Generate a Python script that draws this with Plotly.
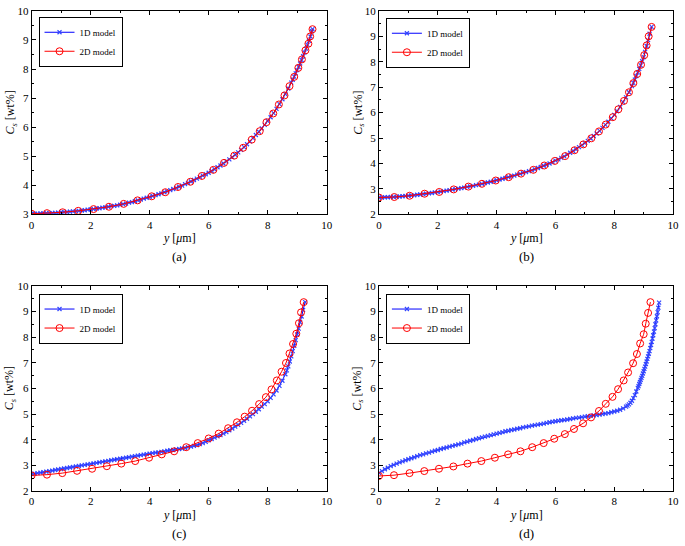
import plotly.graph_objects as go

# ---------------- data ----------------
# panel (a)
a_x1d = [0.0,0.1,0.2,0.3,0.4,0.5,0.6,0.7,0.8,0.9,1.0,1.1,1.2,1.3,1.4,1.5,1.6,1.7,1.8,1.9,
         2.0,2.1,2.2,2.3,2.4,2.5,2.6,2.7,2.8,2.9,3.0,3.1,3.2,3.3,3.4,3.5,3.6,3.7,3.8,3.9,
         4.0,4.1,4.2,4.3,4.4,4.5,4.6,4.7,4.8,4.9,5.0,5.1,5.2,5.3,5.4,5.5,5.6,5.7,5.8,5.9,
         6.0,6.1,6.2,6.3,6.4,6.5,6.6,6.7,6.8,6.9,7.0,7.1,7.2,7.3,7.4,7.5,7.6,7.7,7.8,7.9,
         8.0,8.1,8.2,8.3,8.4,8.5,8.6,8.7,8.8,8.85,8.9,8.95,9.0,9.05,9.1,9.15,9.2,9.25,9.3,
         9.35,9.4,9.45,9.5,9.52]
a_y1d = [3.02,3.02,3.02,3.03,3.03,3.04,3.04,3.05,3.05,3.06,3.07,3.08,3.08,3.09,3.10,3.11,3.12,3.13,3.14,3.16,
         3.17,3.18,3.20,3.21,3.23,3.24,3.26,3.28,3.29,3.31,3.33,3.35,3.37,3.40,3.42,3.45,3.48,3.51,3.54,3.57,
         3.60,3.63,3.66,3.69,3.72,3.76,3.79,3.83,3.87,3.91,3.95,3.99,4.04,4.08,4.13,4.18,4.23,4.28,4.33,4.38,
         4.43,4.49,4.55,4.62,4.68,4.75,4.82,4.89,4.97,5.05,5.13,5.22,5.31,5.41,5.51,5.62,5.73,5.84,5.96,6.08,
         6.21,6.34,6.48,6.63,6.79,6.96,7.14,7.33,7.53,7.63,7.74,7.85,7.96,8.07,8.19,8.31,8.44,8.57,8.70,
         8.83,8.97,9.12,9.30,9.37]
a_x2d = [0.0,0.52,1.05,1.58,2.1,2.62,3.12,3.59,4.07,4.53,4.96,5.38,5.77,6.16,6.52,6.87,7.17,7.46,
         7.73,7.96,8.19,8.38,8.57,8.74,8.9,9.04,9.16,9.28,9.38,9.44,9.52]
a_y2d = [3.02,3.04,3.07,3.12,3.18,3.26,3.36,3.48,3.62,3.76,3.94,4.12,4.32,4.53,4.77,5.02,5.29,5.57,
         5.86,6.17,6.47,6.78,7.09,7.41,7.73,8.04,8.33,8.64,8.87,9.12,9.37]

# panel (b)
b_x1d = [0.0,0.1,0.2,0.3,0.4,0.5,0.6,0.7,0.8,0.9,1.0,1.1,1.2,1.3,1.4,1.5,1.6,1.7,1.8,1.9,
         2.0,2.1,2.2,2.3,2.4,2.5,2.6,2.7,2.8,2.9,3.0,3.1,3.2,3.3,3.4,3.5,3.6,3.7,3.8,3.9,
         4.0,4.1,4.2,4.3,4.4,4.5,4.6,4.7,4.8,4.9,5.0,5.1,5.2,5.3,5.4,5.5,5.6,5.7,5.8,5.9,
         6.0,6.1,6.2,6.3,6.4,6.5,6.6,6.7,6.8,6.9,7.0,7.1,7.2,7.3,7.4,7.5,7.6,7.7,7.8,7.9,
         8.0,8.1,8.2,8.3,8.4,8.5,8.6,8.65,8.7,8.75,8.8,8.85,8.9,8.95,9.0,9.05,9.1,9.15,9.2,9.27]
b_y1d = [2.66,2.66,2.67,2.67,2.68,2.68,2.69,2.70,2.71,2.72,2.73,2.74,2.75,2.77,2.78,2.80,2.81,2.83,2.84,2.86,
         2.87,2.89,2.91,2.93,2.95,2.97,2.99,3.01,3.03,3.05,3.08,3.10,3.12,3.15,3.17,3.20,3.23,3.25,3.28,3.31,
         3.34,3.37,3.40,3.43,3.46,3.49,3.52,3.56,3.59,3.63,3.66,3.70,3.73,3.77,3.82,3.86,3.91,3.95,4.00,4.05,
         4.11,4.16,4.22,4.28,4.35,4.42,4.49,4.56,4.64,4.72,4.80,4.89,4.98,5.08,5.18,5.28,5.40,5.52,5.64,5.77,
         5.91,6.06,6.22,6.41,6.60,6.80,7.04,7.17,7.30,7.44,7.58,7.72,7.86,8.02,8.18,8.39,8.62,8.85,9.10,9.37]
b_x2d = [0.0,0.52,1.04,1.55,2.05,2.54,3.04,3.5,3.97,4.41,4.83,5.25,5.62,5.98,6.33,6.65,6.95,7.22,
         7.48,7.71,7.95,8.14,8.33,8.5,8.65,8.78,8.91,9.02,9.1,9.17,9.27]
b_y2d = [2.66,2.68,2.73,2.81,2.88,2.98,3.09,3.2,3.33,3.46,3.6,3.75,3.92,4.1,4.29,4.52,4.75,4.99,
         5.26,5.53,5.82,6.13,6.46,6.8,7.16,7.52,7.88,8.26,8.64,9.0,9.37]

# panel (c)
c_x1d = [0.0,0.1,0.2,0.3,0.4,0.5,0.6,0.7,0.8,0.9,1.0,1.1,1.2,1.3,1.4,1.5,1.6,1.7,1.8,1.9,
         2.0,2.1,2.2,2.3,2.4,2.5,2.6,2.7,2.8,2.9,3.0,3.1,3.2,3.3,3.4,3.5,3.6,3.7,3.8,3.9,
         4.0,4.1,4.2,4.3,4.4,4.5,4.6,4.7,4.8,4.9,5.0,5.1,5.2,5.3,5.4,5.5,5.6,5.7,5.8,5.9,
         6.0,6.1,6.2,6.3,6.4,6.5,6.6,6.7,6.8,6.9,7.0,7.1,7.2,7.3,7.4,7.5,7.6,7.7,7.8,7.9,
         8.0,8.1,8.2,8.3,8.4,8.5,8.6,8.65,8.7,8.75,8.8,8.85,8.9,8.95,9.0,9.05,9.1,9.15,9.2,9.27]
c_y1d = [2.66,2.68,2.70,2.72,2.74,2.76,2.78,2.80,2.82,2.84,2.86,2.88,2.90,2.92,2.94,2.96,2.98,3.00,3.02,3.04,
         3.06,3.08,3.10,3.12,3.14,3.16,3.18,3.20,3.22,3.24,3.26,3.28,3.30,3.32,3.34,3.36,3.38,3.40,3.42,3.44,
         3.46,3.48,3.50,3.51,3.53,3.55,3.57,3.59,3.60,3.62,3.64,3.66,3.68,3.71,3.73,3.76,3.79,3.83,3.87,3.92,
         3.98,4.03,4.08,4.13,4.18,4.24,4.30,4.37,4.44,4.51,4.58,4.66,4.74,4.82,4.91,5.00,5.09,5.19,5.29,5.39,
         5.50,5.63,5.77,5.92,6.10,6.30,6.55,6.70,6.86,7.05,7.25,7.45,7.66,7.88,8.10,8.33,8.57,8.80,9.05,9.36]
c_x2d = [0.0,0.52,1.04,1.54,2.05,2.55,3.04,3.51,3.98,4.41,4.83,5.24,5.63,6.0,6.34,6.66,6.96,7.22,
         7.47,7.71,7.94,8.13,8.31,8.47,8.62,8.74,8.86,8.97,9.06,9.13,9.22]
c_y2d = [2.61,2.64,2.70,2.79,2.87,2.97,3.07,3.17,3.30,3.43,3.55,3.71,3.87,4.05,4.24,4.45,4.68,4.90,
         5.13,5.39,5.66,5.96,6.31,6.65,6.99,7.36,7.73,8.13,8.54,8.96,9.36]

# panel (d)
d_x1d = [0.0,0.1,0.2,0.3,0.4,0.5,0.6,0.7,0.8,0.9,1.0,1.1,1.2,1.3,1.4,1.5,1.6,1.7,1.8,1.9,
         2.0,2.1,2.2,2.3,2.4,2.5,2.6,2.7,2.8,2.9,3.0,3.1,3.2,3.3,3.4,3.5,3.6,3.7,3.8,3.9,
         4.0,4.1,4.2,4.3,4.4,4.5,4.6,4.7,4.8,4.9,5.0,5.1,5.2,5.3,5.4,5.5,5.6,5.7,5.8,5.9,
         6.0,6.1,6.2,6.3,6.4,6.5,6.6,6.7,6.8,6.9,7.0,7.1,7.2,7.3,7.4,7.5,7.6,7.7,7.8,7.9,
         8.0,8.1,8.2,8.3,8.4,8.45,8.5,8.55,8.6,8.65,8.7,8.75,8.8,8.825,8.85,8.875,8.9,8.925,
         8.95,8.975,9.0,9.025,9.05,9.075,9.1,9.125,9.15,9.175,9.2,9.225,9.25,9.275,9.3,9.325,
         9.35,9.375,9.4,9.425,9.45,9.475,9.5,9.525]
d_y1d = [2.71,2.78,2.85,2.91,2.97,3.02,3.07,3.12,3.16,3.20,3.24,3.28,3.32,3.36,3.40,3.43,3.47,3.50,3.54,3.57,
         3.60,3.64,3.67,3.70,3.73,3.76,3.79,3.82,3.85,3.90,3.93,3.96,3.99,4.03,4.06,4.09,4.12,4.15,4.18,4.21,
         4.24,4.27,4.30,4.33,4.35,4.38,4.40,4.43,4.45,4.48,4.50,4.52,4.55,4.57,4.59,4.61,4.63,4.66,4.68,4.70,
         4.72,4.74,4.76,4.77,4.79,4.81,4.83,4.85,4.86,4.88,4.90,4.92,4.93,4.95,4.96,4.98,5.00,5.02,5.04,5.07,
         5.10,5.13,5.17,5.22,5.29,5.33,5.38,5.44,5.52,5.62,5.74,5.88,6.02,6.09,6.17,6.25,6.33,6.41,
         6.49,6.58,6.67,6.76,6.85,6.95,7.05,7.15,7.25,7.35,7.45,7.57,7.69,7.81,7.94,8.07,
         8.21,8.35,8.50,8.65,8.81,8.97,9.14,9.34]
d_x2d = [0.0,0.51,1.04,1.54,2.04,2.53,3.01,3.48,3.94,4.39,4.81,5.21,5.6,5.96,6.32,6.63,6.94,7.21,
         7.48,7.71,7.94,8.13,8.32,8.47,8.64,8.77,8.88,9.0,9.07,9.15,9.23]
d_y2d = [2.59,2.62,2.70,2.78,2.87,2.96,3.07,3.17,3.30,3.43,3.55,3.71,3.87,4.04,4.22,4.42,4.64,4.87,
         5.12,5.40,5.67,5.97,6.31,6.62,6.98,7.34,7.75,8.11,8.52,8.94,9.36]

panel_labels = ["(a)", "(b)", "(c)", "(d)"]
series_names = ["1D model", "2D model"]
x_ticks = [0, 2, 4, 6, 8, 10]
y_ranges = [[3, 10], [2, 10], [2, 10], [2, 10]]

panels = [(a_x1d, a_y1d, a_x2d, a_y2d),
          (b_x1d, b_y1d, b_x2d, b_y2d),
          (c_x1d, c_y1d, c_x2d, c_y2d),
          (d_x1d, d_y1d, d_x2d, d_y2d)]

# ---------------- layout geometry (pixels of a 685x546 canvas) ----------------
W, H = 685, 546
FONT = "Liberation Serif"
# left, right, top, bottom of each plot area (px)
boxes = [(29, 328, 5, 213), (381, 679, 5, 213), (29, 328, 286, 496), (381, 679, 286, 496)]
legend_pos = [(36, 11), (388, 12), (36, 294), (388, 294)]

fig = go.Figure()
layout = dict(width=W, height=H, margin=dict(l=0, r=0, t=0, b=0),
              paper_bgcolor="white", plot_bgcolor="white",
              font=dict(family=FONT, size=11, color="black"), annotations=[])

for i, (x1, y1, x2, y2) in enumerate(panels):
    k = "" if i == 0 else str(i + 1)
    leg = "legend" if i == 0 else "legend" + str(i + 1)
    fig.add_trace(go.Scatter(x=x1, y=y1, mode="lines+markers", name=series_names[0],
                             line=dict(color="#0000ff", width=1),
                             marker=dict(symbol="x-thin", size=4, color="#3346ff",
                                         line=dict(width=1.2, color="#3346ff")),
                             xaxis="x" + k, yaxis="y" + k, legend=leg))
    fig.add_trace(go.Scatter(x=x2, y=y2, mode="lines+markers", name=series_names[1],
                             line=dict(color="#ff0000", width=1),
                             marker=dict(symbol="circle-open", size=7, color="#ff0000",
                                         line=dict(width=1)),
                             xaxis="x" + k, yaxis="y" + k, legend=leg))
    l, r, t, b = boxes[i]
    axcommon = dict(showline=True, linecolor="black", linewidth=1, mirror="allticks",
                    ticks="inside", ticklen=4, tickcolor="black", showgrid=False,
                    zeroline=False, ticklabeloverflow="allow",
                    tickfont=dict(family=FONT, size=11, color="black"))
    layout["xaxis" + k] = dict(domain=[l / W, r / W], range=[0, 10], tickvals=x_ticks,
                               anchor="y" + k,
                               minor=dict(dtick=1, ticks="inside", ticklen=2, tickcolor="black"),
                               **axcommon)
    layout["yaxis" + k] = dict(domain=[1 - b / H, 1 - t / H], range=y_ranges[i], dtick=1,
                               anchor="x" + k,
                               minor=dict(dtick=0.5, ticks="inside", ticklen=2, tickcolor="black"),
                               **axcommon)
    lx, ly = legend_pos[i]
    layout[leg] = dict(x=lx / W, y=1 - ly / H, xanchor="left", yanchor="top",
                       bordercolor="black", borderwidth=1, bgcolor="white",
                       font=dict(family=FONT, size=9, color="black"),
                       tracegroupgap=0, itemwidth=30)
    cx = (l + r) / 2
    layout["annotations"] += [
        dict(text="<i>y</i> [<i>μ</i>m]", x=cx / W, y=1 - (b + 24) / H, xref="paper", yref="paper",
             xanchor="center", yanchor="middle",
             showarrow=False, font=dict(family=FONT, size=12)),
        dict(text=panel_labels[i], x=cx / W, y=1 - (b + 43) / H, xref="paper", yref="paper",
             xanchor="center", yanchor="middle",
             showarrow=False, font=dict(family=FONT, size=13)),
        dict(text="<i>C</i><sub><i>s</i></sub> [wt%]", x=(l - 21) / W, y=1 - (t + b) / 2 / H,
             xref="paper", yref="paper", textangle=-90, showarrow=False,
             xanchor="center", yanchor="middle",
             font=dict(family=FONT, size=12)),
    ]

fig.update_layout(**layout)
fig.write_html("out.html", config={"displayModeBar": False},
               post_script="document.body.style.margin='0';document.body.style.padding='0';")
